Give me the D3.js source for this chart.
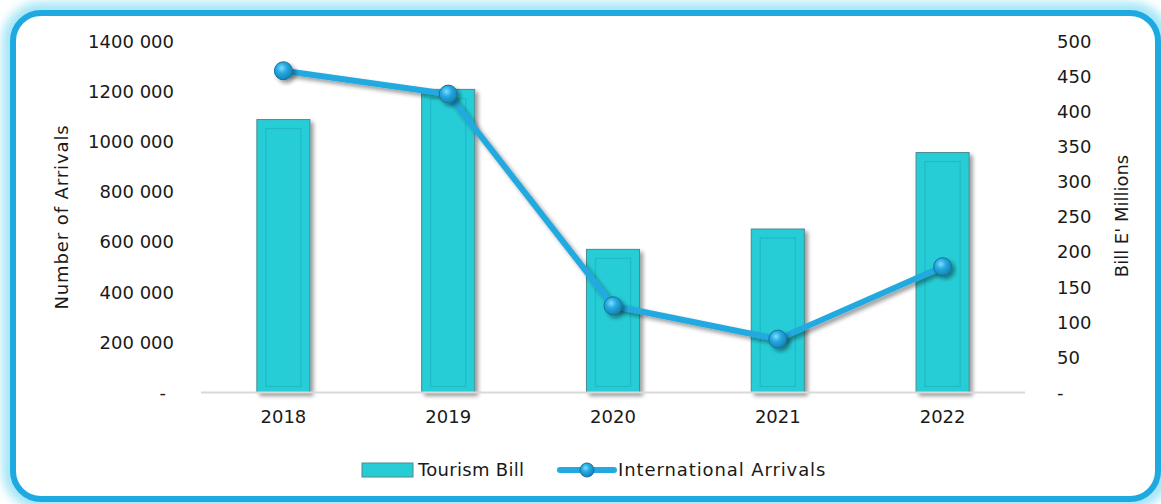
<!DOCTYPE html>
<html><head><meta charset="utf-8">
<script src="https://cdn.jsdelivr.net/npm/d3@7"></script>
<style>
html,body{margin:0;padding:0;background:#fff;}
svg text{font-family:"DejaVu Sans",sans-serif;fill:#1a1a1a;}
</style></head>
<body>
<script>
const years = ["2018","2019","2020","2021","2022"];
const tourismBill = [389, 432, 204, 233, 342];            // Bill E' Millions (right axis)
const arrivals = [1284000, 1191000, 346000, 213000, 502000]; // Number of Arrivals (left axis)
const leftTicks = [0,200000,400000,600000,800000,1000000,1200000,1400000];
const rightTicks = [0,50,100,150,200,250,300,350,400,450,500];
const seriesNames = ["Tourism Bill","International Arrivals"];

const W=1161,H=504;
const svg=d3.select("body").append("svg").attr("width",W).attr("height",H);
const defs=svg.append("defs");

const glow=defs.append("filter").attr("id","glow").attr("x","-10%").attr("y","-10%").attr("width","120%").attr("height","120%");
glow.append("feGaussianBlur").attr("stdDeviation",5);

const sh=defs.append("filter").attr("id","shadow").attr("x","-30%").attr("y","-30%").attr("width","160%").attr("height","160%");
sh.append("feGaussianBlur").attr("in","SourceAlpha").attr("stdDeviation",2.2).attr("result","b");
sh.append("feOffset").attr("dx",2.5).attr("dy",2.5).attr("result","o");
sh.append("feComponentTransfer").append("feFuncA").attr("type","linear").attr("slope",0.4);
const m=sh.append("feMerge"); m.append("feMergeNode"); m.append("feMergeNode").attr("in","SourceGraphic");

const rg=defs.append("radialGradient").attr("id","ball").attr("cx","40%").attr("cy","35%").attr("r","65%");
rg.append("stop").attr("offset","0%").attr("stop-color","#7fdcff");
rg.append("stop").attr("offset","45%").attr("stop-color","#23a9e0");
rg.append("stop").attr("offset","100%").attr("stop-color","#1583b5");

// frame
svg.append("rect").attr("x",11).attr("y",11).attr("width",1150).attr("height",490).attr("rx",30)
  .attr("fill","none").attr("stroke","#a6e6f8").attr("stroke-width",18).attr("filter","url(#glow)");
svg.append("rect").attr("x",13).attr("y",13).attr("width",1145).attr("height",486).attr("rx",28)
  .attr("fill","#fff").attr("stroke","#1fa9e1").attr("stroke-width",6);

const x0=201,x1=1025,yTop=41.7,yBot=392.5;
const x=d3.scaleBand().domain(years).range([x0,x1]).paddingInner(0.678).paddingOuter(0.339);
const yL=d3.scaleLinear().domain([0,1400000]).range([yBot,yTop]);
const yR=d3.scaleLinear().domain([0,500]).range([yBot,yTop]);

const fmt=v=>v===0?"-":d3.format(",")(v).replace(/,/g," ").replace(/^(\d) (\d{3}) /,"$1$2 ");

// left axis labels
const gL=svg.append("g").attr("transform",`translate(174,0)`)
  .call(d3.axisLeft(yL).tickValues(leftTicks).tickSize(0).tickPadding(0).tickFormat(fmt));
gL.select(".domain").remove();
gL.selectAll("text").attr("font-size",18).attr("font-family","DejaVu Sans").attr("fill","#1a1a1a")
  .attr("dx",d=>d===0?-8:0);

const gR=svg.append("g").attr("transform",`translate(1057,0)`)
  .call(d3.axisRight(yR).tickValues(rightTicks).tickSize(0).tickPadding(0).tickFormat(d=>d===0?"-":d));
gR.select(".domain").remove();
gR.selectAll("text").attr("font-size",18).attr("font-family","DejaVu Sans").attr("fill","#1a1a1a");

// bars
const bars=svg.append("g");
years.forEach((yr,i)=>{
  const bx=x(yr),bw=x.bandwidth(),by=yR(tourismBill[i]),bh=yBot-by;
  bars.append("rect").attr("x",bx).attr("y",by).attr("width",bw).attr("height",bh)
    .attr("fill","#26cdd6").attr("stroke","#4d8a8e").attr("stroke-width",1).attr("filter","url(#shadow)");
  bars.append("rect").attr("x",bx+9).attr("y",by+9).attr("width",bw-18).attr("height",bh-15)
    .attr("fill","none").attr("stroke","#1fbcc6").attr("stroke-width",1.3);
});

// x axis
svg.append("line").attr("x1",x0).attr("x2",x1).attr("y1",yBot).attr("y2",yBot).attr("stroke","#d9d9d9").attr("stroke-width",2);
const gX=svg.append("g").attr("transform",`translate(0,${yBot})`).call(d3.axisBottom(x).tickSize(0).tickPadding(18));
gX.select(".domain").remove();
gX.selectAll("text").attr("font-size",18).attr("font-family","DejaVu Sans").attr("fill","#1a1a1a");

// line
const cx=d=>x(d)+x.bandwidth()/2;
const line=d3.line().x((d,i)=>cx(years[i])).y(d=>yL(d));
svg.append("path").datum(arrivals).attr("d",line).attr("fill","none").attr("stroke","#23a9e0")
  .attr("stroke-width",6).attr("stroke-linejoin","round").attr("filter","url(#shadow)");
svg.append("g").selectAll("circle").data(arrivals).join("circle")
  .attr("cx",(d,i)=>cx(years[i])).attr("cy",d=>yL(d)).attr("r",9)
  .attr("fill","url(#ball)").attr("stroke","#14729c").attr("stroke-width",1).attr("filter","url(#shadow)");

// axis titles
svg.append("text").attr("transform","translate(68,217) rotate(-90)").attr("text-anchor","middle")
  .attr("font-size",18).attr("letter-spacing",0.9).text("Number of Arrivals");
svg.append("text").attr("transform","translate(1128,216) rotate(-90)").attr("text-anchor","middle")
  .attr("font-size",18).text("Bill E' Millions");

// legend
const lg=svg.append("g");
lg.append("rect").attr("x",362).attr("y",463).attr("width",51).attr("height",14)
  .attr("fill","#26cdd6").attr("stroke","#4d8a8e").attr("stroke-width",1);
lg.append("text").attr("x",418).attr("y",476).attr("font-size",18).attr("letter-spacing",0.3).text(seriesNames[0]);
lg.append("line").attr("x1",560).attr("x2",614).attr("y1",470).attr("y2",470).attr("stroke","#23a9e0").attr("stroke-width",6).attr("stroke-linecap","round");
lg.append("circle").attr("cx",587).attr("cy",470).attr("r",7).attr("fill","url(#ball)").attr("stroke","#14729c").attr("stroke-width",1);
lg.append("text").attr("x",618).attr("y",476).attr("font-size",18).attr("letter-spacing",0.9).text(seriesNames[1]);
</script>
</body></html>
